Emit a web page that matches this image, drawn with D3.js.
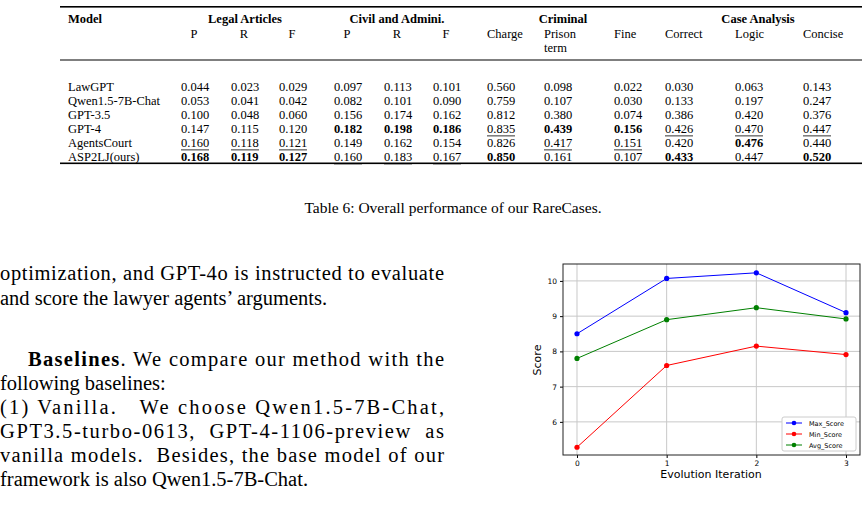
<!DOCTYPE html>
<html>
<head>
<meta charset="utf-8">
<script src="https://cdn.jsdelivr.net/npm/d3@7"></script>
<style>
body { margin: 0; background: #fff; }
text { fill: #000; }
.serif text { font-family: "Liberation Serif", serif; }
.sans text { font-family: "DejaVu Sans", sans-serif; }
</style>
</head>
<body>
<svg id="page" width="867" height="509"></svg>
<script>
// ---- table data ----
var models = ["LawGPT", "Qwen1.5-7B-Chat", "GPT-3.5", "GPT-4", "AgentsCourt", "ASP2LJ(ours)"];
var columns = ["P", "R", "F", "P", "R", "F", "Charge", "Prison|term", "Fine", "Correct", "Logic", "Concise"];
var groups = ["Legal Articles", "Civil and Admini.", "Criminal", "Case Analysis"];
var values = [
    ["0.044", "0.023", "0.029", "0.097", "0.113", "0.101", "0.560", "0.098", "0.022", "0.030", "0.063", "0.143"],
    ["0.053", "0.041", "0.042", "0.082", "0.101", "0.090", "0.759", "0.107", "0.030", "0.133", "0.197", "0.247"],
    ["0.100", "0.048", "0.060", "0.156", "0.174", "0.162", "0.812", "0.380", "0.074", "0.386", "0.420", "0.376"],
    ["0.147", "0.115", "0.120", "0.182", "0.198", "0.186", "0.835", "0.439", "0.156", "0.426", "0.470", "0.447"],
    ["0.160", "0.118", "0.121", "0.149", "0.162", "0.154", "0.826", "0.417", "0.151", "0.420", "0.476", "0.440"],
    ["0.168", "0.119", "0.127", "0.160", "0.183", "0.167", "0.850", "0.161", "0.107", "0.433", "0.447", "0.520"]
];
// b = bold, u = underline
var marks = [
    "............",
    "............",
    "............",
    "...bbbubbuuu",
    "uuu....uu.b.",
    "bbbuuub..b.b"
];

// ---- chart data ----
var iterations = [0, 1, 2, 3];
var maxScore = [8.5, 10.07, 10.23, 9.1];
var minScore = [5.28, 7.6, 8.15, 7.91];
var avgScore = [7.8, 8.9, 9.24, 8.92];

var svg = d3.select("#page");
var doc = svg.append("g").attr("class", "serif");

// table
var colX = [181, 231, 279, 334, 384, 433, 487, 544, 614, 665, 735, 803];
var groupX = [245, 397, 563, 758];
var rowY = d3.scaleBand().domain(models).range([81, 165]);

doc.append("rect").attr("x", 60).attr("y", 6).attr("width", 802).attr("height", 1.6);
doc.append("rect").attr("x", 60).attr("y", 59.5).attr("width", 802).attr("height", 1);
doc.append("rect").attr("x", 60).attr("y", 162.5).attr("width", 802).attr("height", 1.6);

doc.append("text").attr("x", 68).attr("y", 23).attr("font-size", 12.5).attr("font-weight", "bold").text("Model");
doc.selectAll(".grp").data(groups).enter().append("text")
    .attr("x", function(d, i) { return groupX[i]; }).attr("y", 23)
    .attr("text-anchor", "middle").attr("font-size", 12.5).attr("font-weight", "bold").text(function(d) { return d; });
columns.forEach(function(c, i) {
    var parts = c.split("|");
    var t = doc.append("text").attr("font-size", 12.5).attr("y", 38);
    if (parts.length > 1) {
        parts.forEach(function(p, k) { t.append("tspan").attr("x", colX[i]).attr("dy", k ? 14 : 0).text(p); });
    } else {
        t.attr("x", c.length == 1 ? colX[i] + 13 : colX[i]).attr("text-anchor", c.length == 1 ? "middle" : "start").text(c);
    }
});

models.forEach(function(m, r) {
    var y = rowY(m) + 10;
    doc.append("text").attr("x", 68).attr("y", y).attr("font-size", 12.5).text(m);
    values[r].forEach(function(v, c) {
        var mk = marks[r][c];
        doc.append("text").attr("x", colX[c]).attr("y", y).attr("font-size", 12.5)
            .attr("font-weight", mk == "b" ? "bold" : "normal").text(v);
        if (mk == "u") {
            doc.append("rect").attr("x", colX[c]).attr("y", y + 2.5).attr("width", 28).attr("height", 0.8);
        }
    });
});

doc.append("text").attr("x", 453).attr("y", 213).attr("text-anchor", "middle").attr("font-size", 15.5)
    .text("Table 6: Overall performance of our RareCases.");

// paragraph text
var lines = [
    { y: 280, t: "optimization, and GPT-4o is instructed to evaluate", j: true },
    { y: 305, t: "and score the lawyer agents’ arguments.", j: false },
    { y: 390, t: "following baselines:", j: false },
    { y: 414, t: "(1) Vanilla.   We choose Qwen1.5-7B-Chat,", j: true },
    { y: 438, t: "GPT3.5-turbo-0613,  GPT-4-1106-preview  as", j: true },
    { y: 462, t: "vanilla models.  Besides, the base model of our", j: true },
    { y: 486, t: "framework is also Qwen1.5-7B-Chat.", j: false }
];
lines.forEach(function(l) {
    var t = doc.append("text").attr("x", 0).attr("y", l.y).attr("font-size", 20.5).attr("xml:space", "preserve").text(l.t);
    if (l.j) t.attr("textLength", 444).attr("lengthAdjust", "spacing");
});
var b = doc.append("text").attr("x", 28).attr("y", 366).attr("font-size", 20.5).attr("textLength", 416).attr("lengthAdjust", "spacing");
b.append("tspan").attr("font-weight", "bold").text("Baselines");
b.append("tspan").text(".  We compare our method with the");

// line chart
var x = d3.scaleLinear().domain([-0.156, 3.156]).range([563, 860]);
var y = d3.scaleLinear().domain([5.06, 10.48]).range([455, 264]);
var g = svg.append("g").attr("class", "sans");

g.selectAll(".vg").data(iterations).enter().append("line")
    .attr("x1", function(d) { return x(d); }).attr("x2", function(d) { return x(d); })
    .attr("y1", 264).attr("y2", 455).attr("stroke", "#c8c8c8").attr("stroke-width", 1);
g.selectAll(".hg").data([6, 7, 8, 9, 10]).enter().append("line")
    .attr("y1", function(d) { return y(d); }).attr("y2", function(d) { return y(d); })
    .attr("x1", 563).attr("x2", 860).attr("stroke", "#c8c8c8").attr("stroke-width", 1);

g.append("g").attr("transform", "translate(0,455)")
    .call(d3.axisBottom(x).tickValues(iterations).tickFormat(d3.format("d")).tickSize(3))
    .call(function(a) { a.select(".domain").remove(); a.selectAll("text").attr("font-size", 7.5).attr("font-family", null); });
g.append("g").attr("transform", "translate(563,0)")
    .call(d3.axisLeft(y).tickValues([6, 7, 8, 9, 10]).tickFormat(d3.format("d")).tickSize(3))
    .call(function(a) { a.select(".domain").remove(); a.selectAll("text").attr("font-size", 7.5).attr("font-family", null); });
g.append("rect").attr("x", 563).attr("y", 264).attr("width", 297).attr("height", 191)
    .attr("fill", "none").attr("stroke", "#222").attr("stroke-width", 1);

var series = [
    { name: "Max_Score", v: maxScore, c: "#0000ff" },
    { name: "Min_Score", v: minScore, c: "#ff0000" },
    { name: "Avg_Score", v: avgScore, c: "#008000" }
];
var line = d3.line().x(function(d, i) { return x(iterations[i]); }).y(function(d) { return y(d); });
series.forEach(function(s) {
    g.append("path").attr("d", line(s.v)).attr("fill", "none").attr("stroke", s.c).attr("stroke-width", 1);
    g.selectAll(null).data(s.v).enter().append("circle")
        .attr("cx", function(d, i) { return x(iterations[i]); }).attr("cy", function(d) { return y(d); })
        .attr("r", 2.6).attr("fill", s.c);
});

g.append("text").attr("x", 711).attr("y", 478).attr("text-anchor", "middle").attr("font-size", 11).text("Evolution Iteration");
g.append("text").attr("transform", "translate(541,360) rotate(-90)").attr("text-anchor", "middle")
    .attr("font-size", 11).text("Score");

var lg = g.append("g").attr("transform", "translate(782,417)");
lg.append("rect").attr("width", 74).attr("height", 34).attr("rx", 2).attr("fill", "#fff").attr("stroke", "#ccc");
series.forEach(function(s, i) {
    var yy = 6 + i * 11;
    lg.append("line").attr("x1", 4).attr("x2", 20).attr("y1", yy).attr("y2", yy).attr("stroke", s.c);
    lg.append("circle").attr("cx", 12).attr("cy", yy).attr("r", 2.3).attr("fill", s.c);
    lg.append("text").attr("x", 27).attr("y", yy + 2.5).attr("font-size", 6.5).text(s.name);
});
</script>
</body>
</html>
